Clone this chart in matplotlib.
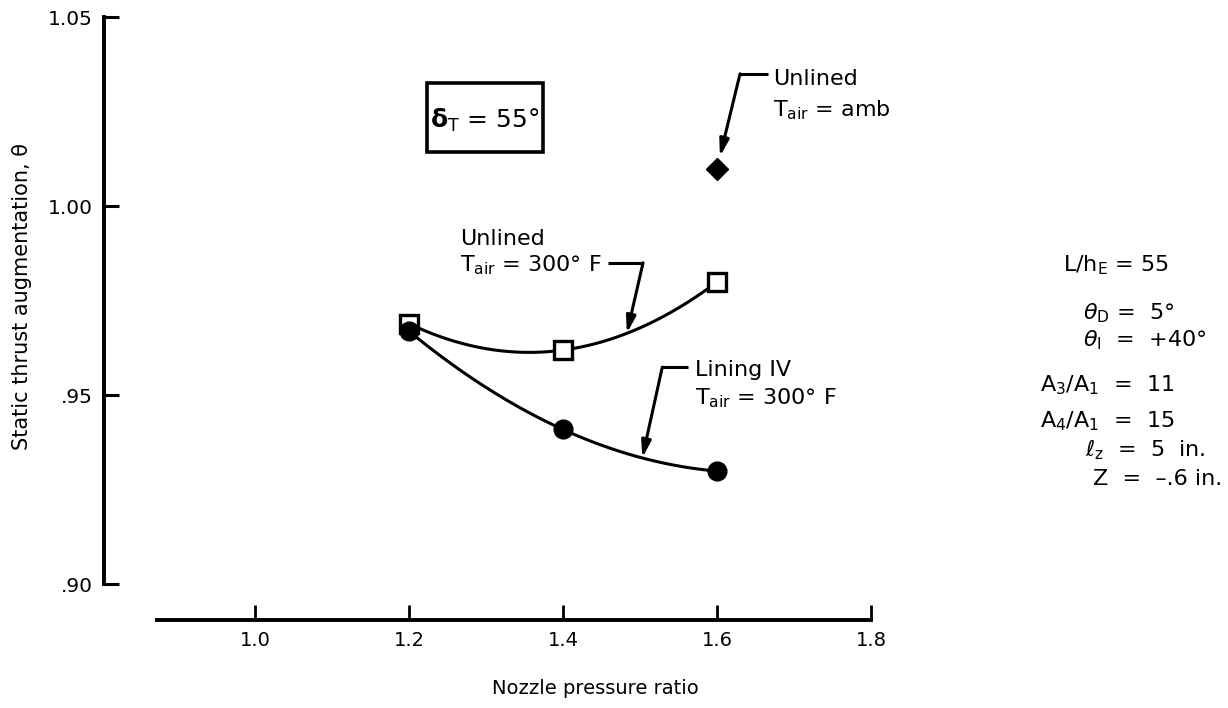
import numpy as np
import matplotlib
matplotlib.use("Agg")
import matplotlib.pyplot as plt
from matplotlib.patches import Rectangle

plt.rcParams["font.family"] = ["DejaVu Sans"]
plt.rcParams["mathtext.fontset"] = "dejavusans"

# Nozzle pressure ratio
npr = [1.2, 1.4, 1.6]
# Static thrust augmentation
unlined_300f = [0.969, 0.962, 0.980]
lining_iv_300f = [0.967, 0.941, 0.930]
unlined_amb_npr = [1.6]
unlined_amb = [1.010]

x_ticks = [1.0, 1.2, 1.4, 1.6, 1.8]
x_ticklabels = ["1.0", "1.2", "1.4", "1.6", "1.8"]
y_ticks = [0.90, 0.95, 1.00, 1.05]
y_ticklabels = [".90", ".95", "1.00", "1.05"]

params = [
    r"L/h$_\mathregular{E}$ = 55",
    r"$\theta_\mathregular{D}$ =  5°",
    r"$\theta_\mathregular{I}$  =  +40°",
    r"A$_\mathregular{3}$/A$_\mathregular{1}$  =  11",
    r"A$_\mathregular{4}$/A$_\mathregular{1}$  =  15",
    r"$\ell_\mathregular{z}$  =  5  in.",
    r"Z  =  –.6 in.",
]

W, H = 1228, 708
fig = plt.figure(figsize=(W / 100, H / 100), dpi=100)
ax = fig.add_axes([0.0697, 0.0944, 0.6709, 0.9023])
ax.set_xlim(0.78, 1.85)
ax.set_ylim(0.885, 1.054)
ax.patch.set_alpha(0)

lw_axis = 2.8
for s in ("top", "right"):
    ax.spines[s].set_visible(False)
ax.spines["left"].set_position(("data", 0.804))
ax.spines["left"].set_bounds(0.90, 1.05)
ax.spines["left"].set_linewidth(lw_axis)
ax.spines["bottom"].set_position(("data", 0.8906))
ax.spines["bottom"].set_bounds(0.873, 1.8)
ax.spines["bottom"].set_linewidth(lw_axis)

ax.set_yticks(y_ticks)
ax.set_yticklabels(y_ticklabels)
ax.set_xticks(x_ticks)
ax.set_xticklabels(x_ticklabels)
ax.tick_params(axis="y", direction="in", length=11, width=2.2, pad=8, labelsize=14.5)
ax.tick_params(axis="x", direction="in", length=11, width=2.0, pad=8, labelsize=14)

# faired curves through each data series
xs = np.linspace(npr[0], npr[-1], 200)
fit_unlined = np.poly1d(np.polyfit(npr, unlined_300f, 2))
fit_lining = np.poly1d(np.polyfit(npr, lining_iv_300f, 2))
ax.plot(xs, fit_unlined(xs), color="black", lw=2.2, zorder=2)
ax.plot(xs, fit_lining(xs), color="black", lw=2.2, zorder=2)

ax.plot(npr, unlined_300f, "s", ms=13, mfc="white", mec="black", mew=2.4, zorder=3)
ax.plot(npr, lining_iv_300f, "o", ms=13.5, mfc="black", mec="black", zorder=4)
ax.plot(unlined_amb_npr, unlined_amb, "D", ms=11, mfc="black", mec="black", zorder=4)

fs = 16
arrow = dict(arrowstyle="-|>,head_length=1.0,head_width=0.28", color="black",
             lw=2.2, shrinkA=0, shrinkB=0)
leader = dict(color="black", lw=2.2, solid_capstyle="butt")

# Unlined, ambient air
ax.plot([1.630, 1.666], [1.0351, 1.0351], **leader)
ax.annotate("", xy=(1.6, unlined_amb[0]), xytext=(1.630, 1.0351),
            arrowprops=dict(arrow, shrinkB=9))
ax.text(1.673, 1.0343, "Unlined", fontsize=fs, va="center_baseline", ha="left")
ax.text(1.673, 1.0263, r"T$_\mathregular{air}$ = amb", fontsize=fs, va="center_baseline", ha="left")

# Unlined, 300 F air
ax.plot([1.459, 1.504], [0.9851, 0.9851], **leader)
ax.annotate("", xy=(1.483, fit_unlined(1.483)), xytext=(1.504, 0.9851),
            arrowprops=arrow)
ax.text(1.266, 0.9919, "Unlined", fontsize=fs, va="center_baseline", ha="left")
ax.text(1.266, 0.9851, r"T$_\mathregular{air}$ = 300° F", fontsize=fs, va="center_baseline", ha="left")

# Lining IV, 300 F air
ax.plot([1.529, 1.562], [0.9575, 0.9575], **leader)
ax.annotate("", xy=(1.503, fit_lining(1.503)), xytext=(1.529, 0.9575),
            arrowprops=arrow)
ax.text(1.571, 0.9573, "Lining IV", fontsize=fs, va="center_baseline", ha="left")
ax.text(1.571, 0.9501, r"T$_\mathregular{air}$ = 300° F", fontsize=fs, va="center_baseline", ha="left")

# Deflection angle box
ax.add_patch(Rectangle((1.2234, 1.0145), 0.1506, 0.0182, fill=False, ec="black", lw=2.6, zorder=3))
ax.text(1.299, 1.0236, r"$\mathbf{\delta}_\mathregular{T}$ = 55°", fontsize=18,
        va="center_baseline", ha="center")

# Test configuration parameters
param_x = [1063, 1083, 1083, 1040, 1040, 1085, 1093]
param_y = [262, 310, 337, 382, 418, 447, 477]
for txt, px, py in zip(params, param_x, param_y):
    fig.text(px / W, 1 - py / H, txt, fontsize=fs, va="center_baseline", ha="left")

fig.text(595 / W, 1 - 689 / H, "Nozzle pressure ratio", fontsize=14, ha="center", va="center")
fig.text(22 / W, 1 - 297 / H, "Static thrust augmentation, θ", fontsize=15,
         ha="center", va="center", rotation=90)

fig.savefig("out.png", dpi=100)
